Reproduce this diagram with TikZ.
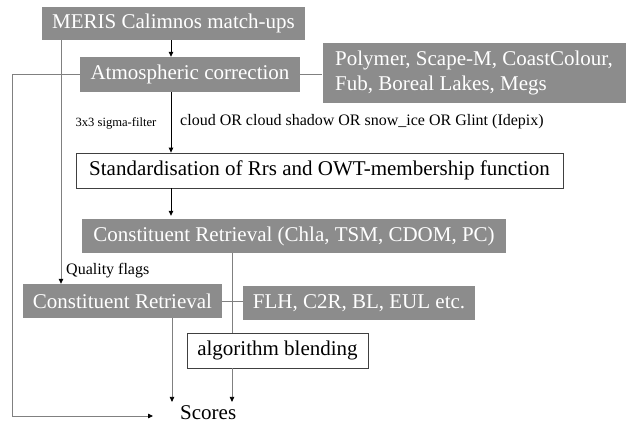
\documentclass[tikz,border=0pt]{standalone}
\usepackage{fontspec}
\setmainfont{LiberationSerif}[Extension=.ttf, UprightFont=*-Regular, BoldFont=*-Bold, ItalicFont=*-Italic, BoldItalicFont=*-BoldItalic]
\usetikzlibrary{arrows.meta}
\definecolor{boxgray}{HTML}{8C8C8C}
\definecolor{linegray}{HTML}{808080}
\begin{document}
\begin{tikzpicture}[x=1pt,y=-1pt,
  bigtext/.style={font=\fontsize{21}{25}\selectfont},
  graybox/.style={bigtext, fill=boxgray, draw=none, text=white, inner sep=0pt},
  whitebox/.style={bigtext, fill=white, draw=black!75, line width=0.8pt, inner sep=0pt},
  arr/.style={draw=black, line width=0.8pt, -{Triangle[length=5pt,width=4.5pt]}},
  glink/.style={draw=linegray, line width=0.8pt},
  garr/.style={draw=linegray, line width=0.8pt, -{Triangle[length=5pt,width=4.5pt,color=black]}},
  label/.style={inner sep=0pt, text=black}]
\useasboundingbox (0,0) rectangle (627,423);

% boxes
\node[graybox, minimum width=263pt, minimum height=33pt] (meris) at (173.5,23.5) {MERIS Calimnos match-ups};
\node[graybox, minimum width=220pt, minimum height=35pt] (atm) at (190,74.5) {Atmospheric correction};
\node[graybox, minimum width=303pt, minimum height=60pt, align=left] (poly) at (474,73) {Polymer, Scape-M, CoastColour,\\Fub, Boreal Lakes, Megs};
\node[whitebox, minimum width=487pt, minimum height=35pt] (std) at (319.5,170.5) {Standardisation of Rrs and OWT-membership function};
\node[graybox, minimum width=424pt, minimum height=34pt] (crbig) at (294,236) {Constituent Retrieval (Chla, TSM, CDOM, PC)};
\node[graybox, minimum width=199pt, minimum height=34pt] (smallcr) at (122.5,301) {Constituent Retrieval};
\node[graybox, minimum width=232pt, minimum height=34pt] (flh) at (359,303) {FLH, C2R, BL, EUL etc.};
\node[whitebox, minimum width=181pt, minimum height=35pt] (alg) at (277.5,350.5) {algorithm blending};
\node[label, bigtext, anchor=base west] (scores) at (180,419) {Scores};

% labels
\node[label, font=\fontsize{12.6}{14}\selectfont] (sigma) at (116,123) {3x3 sigma-filter};
\node[label, font=\fontsize{16}{19}\selectfont, anchor=west] (cloud) at (180,122) {cloud OR cloud shadow OR snow\_ice OR Glint (Idepix)};
\node[label, font=\fontsize{16}{19}\selectfont, anchor=west] (quality) at (66,271) {Quality flags};

\coordinate (loopend) at (153,416);

% connectors
\draw[arr] ([xshift=-2.5pt]meris.south) -- ([xshift=-2.5pt]meris.south |- atm.north);
\draw[arr] ([xshift=-19pt]atm.south) -- ([xshift=-19pt]atm.south |- std.north);
\draw[arr, shorten >=3pt] ([xshift=-148.5pt]std.south) -- ([xshift=-148.5pt]std.south |- crbig.north);
\draw[garr] ([xshift=-112.5pt]meris.south) -- ([xshift=-112.5pt]meris.south |- smallcr.north);
\draw[glink] (atm.east) -- (atm.east -| poly.west);
\draw[garr] (atm.west) -- (12,74.5) |- (loopend);
\draw[glink] (smallcr.east) -- (smallcr.east -| flh.west);
\draw[glink] ([xshift=-62pt]crbig.south) -- ([xshift=-62pt]crbig.south |- alg.north);
\draw[garr, shorten >=3pt] ([xshift=-45.5pt]alg.south) -- ([xshift=-45.5pt]alg.south |- scores.north);
\draw[garr, shorten >=3pt] ([xshift=49.5pt]smallcr.south) -- ([xshift=49.5pt]smallcr.south |- scores.north);
\end{tikzpicture}
\end{document}
